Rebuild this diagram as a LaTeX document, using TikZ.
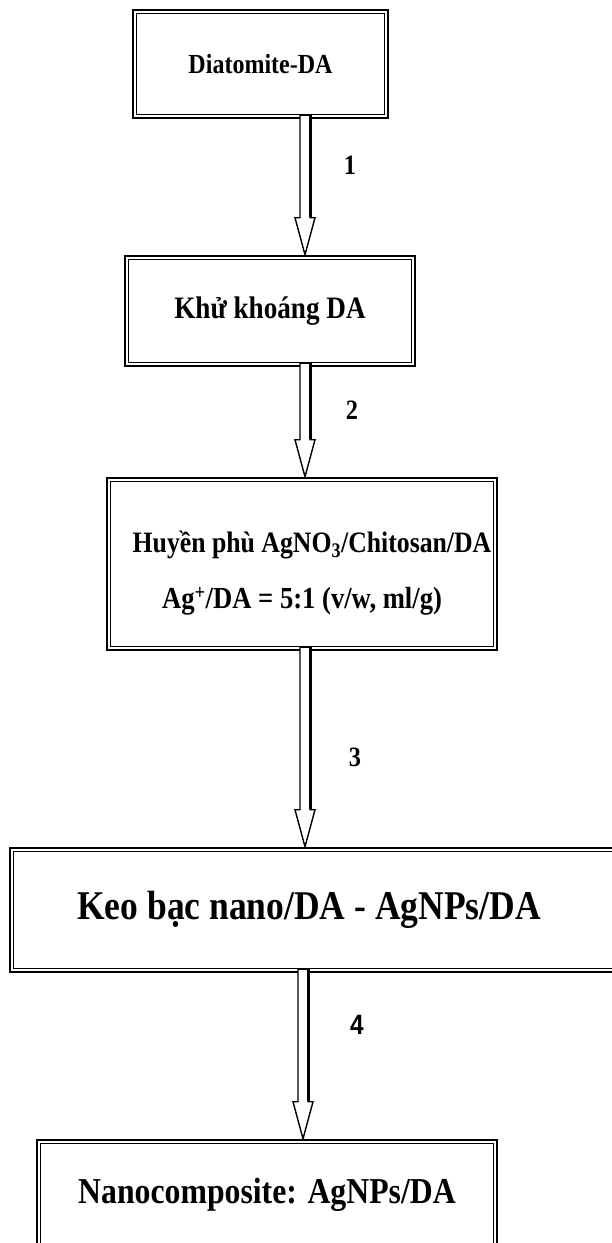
\documentclass[tikz,border=0pt]{standalone}
\usepackage{fontspec}
\setmainfont[FakeStretch=0.87]{Liberation Serif}
\newfontfamily\sansfont[FakeStretch=0.87]{Liberation Sans}
\usetikzlibrary{calc}
\tikzset{
  dbox/.style={draw, line width=2.5pt, inner sep=0pt, align=center},
  innerline/.style={line width=1.4pt},
  blockarrow/.style={draw, fill=white, line width=1.4pt, line join=miter},
  steplabel/.style={font=\bfseries\fontsize{28}{30}\selectfont, inner sep=0pt}
}
\newcommand{\innerbox}[1]{%
  \draw[innerline] ($(#1.north west)+(4.6,4.6)$) rectangle ($(#1.south east)+(-4.6,-4.6)$);}
\newcommand{\hollowarrow}[3]{% from node, to node, x
  \coordinate (ax) at (#3,0);
  \draw[blockarrow] ($(ax |- #1.south)+(-5,-4)$) -- ($(ax |- #2.north)+(-5,-37)$)
    -- ($(ax |- #2.north)+(-10,-37)$) -- ($(ax |- #2.north)+(0,0)$)
    -- ($(ax |- #2.north)+(10,-37)$) -- ($(ax |- #2.north)+(5,-37)$)
    -- ($(ax |- #1.south)+(5,-4)$) -- cycle;
  \draw[line width=2.6pt] ($(ax |- #1.south)+(5.6,-4)$) -- ($(ax |- #2.north)+(5.6,-37.7)$);}
\begin{document}
\begin{tikzpicture}[x=1pt,y=-1pt]
\useasboundingbox (0,0) rectangle (612,1243);
\node[dbox, minimum width=255pt, minimum height=108pt, font=\bfseries\fontsize{27.6}{31}\selectfont] (b1) at (260.5,64) {Diatomite-DA};
\innerbox{b1}
\node[dbox, minimum width=290pt, minimum height=110pt, font=\bfseries\fontsize{31.2}{34}\selectfont] (b2) at (270,311) {Khử khoáng DA};
\innerbox{b2}
\node[dbox, minimum width=390pt, minimum height=172pt] (b3) at (302,564) {};
\node[inner sep=0pt, font=\bfseries\fontsize{29.6}{33}\selectfont] (t3a) at (312,545) {Huyền phù AgNO\textsubscript{3}/Chitosan/DA};
\node[inner sep=0pt, font=\bfseries\fontsize{30.6}{33}\selectfont] (t3b) at (302,601) {Ag\textsuperscript{+}/DA = 5:1 (v/w, ml/g)};
\innerbox{b3}
\node[dbox, minimum width=615pt, minimum height=124pt] (b4) at (317.5,910) {};
\node[inner sep=0pt, font=\bfseries\fontsize{40.8}{44}\selectfont] (t4) at (309,910) {Keo bạc nano/DA - AgNPs/DA};
\innerbox{b4}
\node[dbox, minimum width=460pt, minimum height=110pt, font=\bfseries\fontsize{36.5}{40}\selectfont] (b5) at (267,1195) {Nanocomposite: AgNPs/DA};
\innerbox{b5}
\hollowarrow{b1}{b2}{305}
\hollowarrow{b2}{b3}{305}
\hollowarrow{b3}{b4}{305}
\hollowarrow{b4}{b5}{303}
\node[steplabel] (l1) at (350,165) {1};
\node[steplabel] (l2) at (352,410) {2};
\node[steplabel] (l3) at (355,757) {3};
\node[steplabel, font=\sansfont\bfseries\fontsize{28}{30}\selectfont] (l4) at (357,1025) {4};
\end{tikzpicture}
\end{document}
